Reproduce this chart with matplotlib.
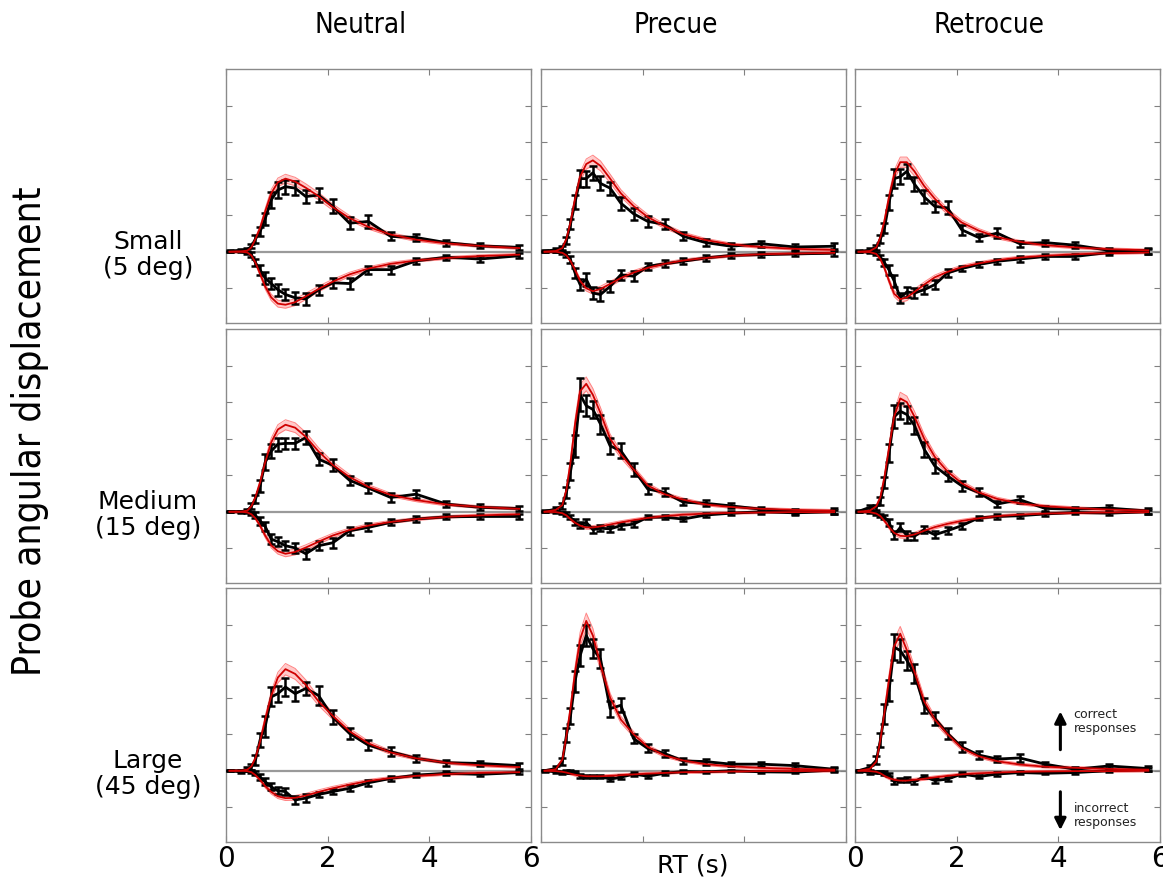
"""
RT distributions (correct up, incorrect down) for each cue condition x
probe displacement, data with SEM bars and model fit with band.
Saves to out.png
"""

import numpy as np
import matplotlib
matplotlib.use("Agg")
import matplotlib.pyplot as plt

# RT bin centres (s), shared by all panels
RT = [0.07, 0.29, 0.42, 0.50, 0.58, 0.67, 0.77, 0.89, 1.02, 1.17, 1.36,
      1.57, 1.82, 2.10, 2.43, 2.80, 3.24, 3.74, 4.33, 4.99, 5.77]

COLUMNS = ["Neutral", "Precue", "Retrocue"]
ROWS = ["Small\n(5 deg)", "Medium\n(15 deg)", "Large\n(45 deg)"]

# ── Neutral / small ───────────────────────────────────────────────────────────
NS_C = [0.02, 0.04, 0.05, 0.15, 0.35, 0.55, 0.90, 1.42, 1.69, 1.78, 1.74, 1.51, 1.55, 1.24, 0.78, 0.83, 0.42, 0.39, 0.25, 0.16, 0.12]
NS_CE = [0.03, 0.03, 0.05, 0.06, 0.10, 0.13, 0.16, 0.21, 0.22, 0.19, 0.19, 0.18, 0.19, 0.19, 0.16, 0.18, 0.11, 0.10, 0.08, 0.07, 0.07]
NS_CM = [0.00, 0.01, 0.03, 0.12, 0.35, 0.65, 1.10, 1.60, 1.90, 2.00, 1.92, 1.75, 1.52, 1.22, 0.92, 0.68, 0.47, 0.33, 0.23, 0.16, 0.10]
NS_I = [0.00, 0.00, -0.02, -0.08, -0.30, -0.50, -0.72, -0.87, -1.04, -1.17, -1.26, -1.29, -1.04, -0.85, -0.87, -0.49, -0.49, -0.25, -0.15, -0.20, -0.11]
NS_IE = [0.02, 0.02, 0.03, 0.06, 0.10, 0.13, 0.16, 0.16, 0.16, 0.16, 0.16, 0.16, 0.14, 0.14, 0.16, 0.11, 0.11, 0.08, 0.07, 0.07, 0.07]
NS_IM = [0.00, 0.00, -0.02, -0.10, -0.30, -0.60, -0.95, -1.25, -1.42, -1.45, -1.38, -1.22, -1.02, -0.82, -0.62, -0.46, -0.33, -0.24, -0.17, -0.12, -0.08]

# ── Precue / small ────────────────────────────────────────────────────────────
PS_C = [0.02, 0.05, 0.10, 0.30, 0.75, 1.35, 2.00, 2.00, 2.16, 1.87, 1.74, 1.33, 1.04, 0.83, 0.75, 0.42, 0.25, 0.15, 0.22, 0.13, 0.15]
PS_CE = [0.03, 0.05, 0.06, 0.10, 0.14, 0.19, 0.24, 0.22, 0.19, 0.19, 0.18, 0.18, 0.16, 0.14, 0.14, 0.11, 0.10, 0.08, 0.08, 0.07, 0.08]
PS_CM = [0.00, 0.02, 0.10, 0.35, 0.80, 1.45, 2.05, 2.40, 2.50, 2.35, 2.00, 1.60, 1.25, 0.95, 0.70, 0.48, 0.32, 0.20, 0.13, 0.08, 0.05]
PS_I = [0.00, 0.00, -0.02, -0.08, -0.22, -0.58, -0.90, -0.75, -1.13, -1.17, -0.95, -0.63, -0.67, -0.40, -0.33, -0.26, -0.17, -0.10, -0.08, -0.06, -0.04]
PS_IE = [0.02, 0.02, 0.03, 0.06, 0.10, 0.13, 0.16, 0.18, 0.16, 0.18, 0.14, 0.14, 0.13, 0.10, 0.10, 0.08, 0.07, 0.07, 0.07, 0.07, 0.07]
PS_IM = [0.00, 0.00, -0.03, -0.10, -0.25, -0.50, -0.80, -1.00, -1.08, -1.02, -0.88, -0.72, -0.57, -0.44, -0.33, -0.24, -0.17, -0.11, -0.07, -0.05, -0.03]

# ── Retrocue / small ──────────────────────────────────────────────────────────
RS_C = [0.01, 0.04, 0.12, 0.35, 0.65, 1.35, 2.00, 2.05, 2.20, 1.85, 1.50, 1.24, 1.20, 0.60, 0.39, 0.51, 0.22, 0.25, 0.18, 0.04, 0.03]
RS_CE = [0.03, 0.05, 0.06, 0.10, 0.14, 0.21, 0.26, 0.21, 0.19, 0.19, 0.18, 0.16, 0.18, 0.13, 0.10, 0.13, 0.08, 0.08, 0.08, 0.07, 0.08]
RS_CM = [0.00, 0.02, 0.12, 0.40, 0.85, 1.50, 2.10, 2.45, 2.45, 2.20, 1.80, 1.45, 1.10, 0.80, 0.58, 0.40, 0.27, 0.18, 0.12, 0.07, 0.04]
RS_I = [0.00, -0.01, -0.05, -0.15, -0.30, -0.50, -0.80, -1.26, -1.10, -1.13, -1.04, -0.90, -0.58, -0.46, -0.35, -0.26, -0.20, -0.13, -0.13, -0.02, 0.00]
RS_IE = [0.02, 0.02, 0.03, 0.06, 0.10, 0.13, 0.16, 0.13, 0.13, 0.13, 0.13, 0.13, 0.10, 0.08, 0.08, 0.07, 0.07, 0.07, 0.07, 0.07, 0.07]
RS_IM = [0.00, -0.01, -0.06, -0.20, -0.45, -0.80, -1.15, -1.30, -1.25, -1.10, -0.90, -0.70, -0.55, -0.42, -0.32, -0.23, -0.16, -0.11, -0.07, -0.04, -0.02]

# ── Neutral / medium ──────────────────────────────────────────────────────────
NM_C = [0.00, 0.00, 0.03, 0.15, 0.35, 0.70, 1.35, 1.66, 1.85, 1.87, 1.87, 2.03, 1.44, 1.27, 0.86, 0.65, 0.39, 0.48, 0.21, 0.12, 0.09]
NM_CE = [0.02, 0.03, 0.05, 0.08, 0.11, 0.16, 0.22, 0.19, 0.18, 0.16, 0.16, 0.19, 0.16, 0.16, 0.13, 0.13, 0.11, 0.11, 0.08, 0.08, 0.08]
NM_CM = [0.00, 0.00, 0.03, 0.15, 0.40, 0.80, 1.35, 1.90, 2.25, 2.38, 2.30, 2.05, 1.65, 1.28, 0.95, 0.68, 0.46, 0.32, 0.20, 0.13, 0.08]
NM_I = [0.00, 0.00, -0.01, -0.05, -0.10, -0.25, -0.40, -0.75, -0.82, -0.93, -0.99, -1.15, -0.93, -0.85, -0.52, -0.43, -0.29, -0.20, -0.14, -0.13, -0.13]
NM_IE = [0.02, 0.02, 0.03, 0.05, 0.08, 0.10, 0.13, 0.13, 0.13, 0.13, 0.13, 0.13, 0.13, 0.14, 0.11, 0.11, 0.08, 0.07, 0.07, 0.07, 0.07]
NM_IM = [0.00, 0.00, -0.02, -0.07, -0.18, -0.38, -0.65, -0.92, -1.08, -1.15, -1.10, -0.98, -0.82, -0.65, -0.50, -0.38, -0.28, -0.20, -0.14, -0.10, -0.07]

# ── Precue / medium ───────────────────────────────────────────────────────────
PM_C = [0.01, 0.07, 0.16, 0.53, 1.10, 1.80, 3.20, 2.90, 2.80, 2.40, 1.80, 1.67, 1.16, 0.62, 0.53, 0.26, 0.23, 0.16, 0.07, 0.01, 0.01]
PM_CE = [0.03, 0.05, 0.08, 0.16, 0.24, 0.29, 0.45, 0.29, 0.24, 0.26, 0.22, 0.21, 0.18, 0.13, 0.11, 0.08, 0.08, 0.07, 0.07, 0.07, 0.08]
PM_CM = [0.00, 0.05, 0.18, 0.60, 1.35, 2.40, 3.30, 3.50, 3.20, 2.70, 2.00, 1.57, 1.16, 0.72, 0.48, 0.33, 0.20, 0.13, 0.08, 0.05, 0.03]
PM_I = [0.00, -0.01, -0.03, -0.06, -0.15, -0.29, -0.36, -0.29, -0.49, -0.45, -0.47, -0.38, -0.34, -0.15, -0.15, -0.20, -0.09, -0.04, 0.00, -0.03, 0.00]
PM_IE = [0.02, 0.02, 0.03, 0.05, 0.06, 0.08, 0.08, 0.08, 0.08, 0.08, 0.08, 0.08, 0.08, 0.06, 0.06, 0.06, 0.05, 0.05, 0.05, 0.05, 0.06]
PM_IM = [0.00, -0.01, -0.04, -0.10, -0.20, -0.30, -0.38, -0.43, -0.43, -0.40, -0.35, -0.29, -0.23, -0.17, -0.12, -0.08, -0.05, -0.03, -0.02, -0.01, -0.01]

# ── Retrocue / medium ─────────────────────────────────────────────────────────
RM_C = [0.01, 0.12, 0.12, 0.30, 0.80, 1.60, 2.60, 2.75, 2.66, 2.36, 1.71, 1.25, 0.98, 0.71, 0.53, 0.21, 0.33, 0.09, 0.07, 0.10, 0.02]
RM_CE = [0.03, 0.06, 0.06, 0.11, 0.16, 0.24, 0.32, 0.22, 0.22, 0.22, 0.21, 0.19, 0.14, 0.13, 0.11, 0.08, 0.10, 0.06, 0.06, 0.08, 0.08]
RM_CM = [0.00, 0.03, 0.15, 0.40, 0.95, 1.75, 2.60, 3.10, 3.00, 2.60, 2.00, 1.50, 1.10, 0.78, 0.53, 0.35, 0.23, 0.15, 0.10, 0.06, 0.03]
RM_I = [0.00, -0.01, -0.05, -0.10, -0.15, -0.29, -0.64, -0.43, -0.65, -0.67, -0.49, -0.63, -0.52, -0.38, -0.17, -0.13, -0.11, -0.06, -0.02, -0.04, 0.00]
RM_IE = [0.02, 0.02, 0.03, 0.05, 0.06, 0.10, 0.11, 0.11, 0.11, 0.10, 0.10, 0.10, 0.10, 0.08, 0.06, 0.06, 0.05, 0.05, 0.05, 0.05, 0.06]
RM_IM = [0.00, -0.01, -0.05, -0.12, -0.25, -0.42, -0.58, -0.66, -0.67, -0.62, -0.52, -0.42, -0.33, -0.25, -0.18, -0.12, -0.08, -0.05, -0.03, -0.02, -0.01]

# ── Neutral / large ───────────────────────────────────────────────────────────
NL_C = [0.00, -0.03, 0.05, 0.11, 0.29, 0.84, 1.20, 2.02, 2.11, 2.29, 2.11, 2.25, 2.06, 1.47, 1.02, 0.70, 0.52, 0.34, 0.22, 0.20, 0.14]
NL_CE = [0.02, 0.03, 0.05, 0.08, 0.13, 0.19, 0.29, 0.26, 0.22, 0.24, 0.19, 0.19, 0.26, 0.19, 0.16, 0.13, 0.13, 0.10, 0.08, 0.08, 0.08]
NL_CM = [0.00, 0.00, 0.03, 0.12, 0.35, 0.80, 1.40, 2.05, 2.55, 2.78, 2.65, 2.35, 1.90, 1.50, 1.08, 0.75, 0.50, 0.34, 0.22, 0.15, 0.10]
NL_I = [0.00, 0.00, 0.00, -0.02, -0.07, -0.18, -0.30, -0.44, -0.55, -0.57, -0.80, -0.75, -0.65, -0.57, -0.48, -0.33, -0.21, -0.12, -0.07, -0.10, -0.05]
NL_IE = [0.02, 0.02, 0.02, 0.03, 0.06, 0.08, 0.10, 0.10, 0.10, 0.10, 0.10, 0.10, 0.08, 0.08, 0.08, 0.08, 0.06, 0.05, 0.05, 0.05, 0.05]
NL_IM = [0.00, 0.00, -0.01, -0.04, -0.12, -0.25, -0.42, -0.58, -0.70, -0.75, -0.74, -0.68, -0.58, -0.48, -0.38, -0.28, -0.20, -0.14, -0.09, -0.06, -0.04]

# ── Precue / large ────────────────────────────────────────────────────────────
PL_C = [0.00, 0.06, 0.25, 0.97, 1.50, 2.45, 3.15, 3.70, 3.34, 3.06, 1.70, 1.79, 0.88, 0.61, 0.47, 0.27, 0.25, 0.18, 0.18, 0.14, 0.04]
PL_CE = [0.03, 0.06, 0.10, 0.19, 0.22, 0.29, 0.29, 0.29, 0.26, 0.26, 0.22, 0.19, 0.13, 0.11, 0.10, 0.08, 0.08, 0.06, 0.06, 0.06, 0.06]
PL_CM = [0.00, 0.04, 0.30, 0.95, 1.70, 2.70, 3.60, 4.10, 3.70, 2.90, 2.00, 1.40, 1.00, 0.65, 0.42, 0.28, 0.18, 0.12, 0.08, 0.05, 0.03]
PL_I = [0.00, -0.03, -0.05, -0.02, -0.02, -0.04, -0.15, -0.16, -0.16, -0.16, -0.23, -0.18, -0.09, -0.15, -0.07, -0.02, -0.03, 0.00, -0.03, -0.04, 0.02]
PL_IE = [0.02, 0.03, 0.03, 0.03, 0.03, 0.03, 0.05, 0.05, 0.05, 0.05, 0.06, 0.05, 0.05, 0.05, 0.05, 0.03, 0.03, 0.03, 0.03, 0.03, 0.05]
PL_IM = [0.00, -0.01, -0.03, -0.05, -0.08, -0.11, -0.13, -0.15, -0.15, -0.15, -0.14, -0.12, -0.10, -0.08, -0.06, -0.04, -0.03, -0.02, -0.01, -0.01, 0.00]

# ── Retrocue / large ──────────────────────────────────────────────────────────
RL_C = [0.00, 0.09, 0.29, 0.84, 1.56, 2.20, 3.38, 3.29, 3.02, 2.65, 1.79, 1.43, 1.02, 0.65, 0.43, 0.32, 0.35, 0.18, 0.04, 0.13, 0.06]
RL_CE = [0.03, 0.06, 0.10, 0.19, 0.27, 0.29, 0.35, 0.32, 0.26, 0.26, 0.21, 0.19, 0.16, 0.13, 0.10, 0.08, 0.11, 0.06, 0.05, 0.06, 0.06]
RL_CM = [0.00, 0.05, 0.25, 0.85, 1.60, 2.50, 3.40, 3.75, 3.30, 2.70, 1.90, 1.40, 1.00, 0.62, 0.40, 0.26, 0.17, 0.11, 0.08, 0.05, 0.03]
RL_I = [0.00, -0.05, -0.04, -0.04, -0.07, -0.10, -0.30, -0.25, -0.24, -0.30, -0.16, -0.27, -0.23, -0.09, -0.16, -0.09, -0.05, -0.07, -0.05, 0.00, 0.03]
RL_IE = [0.02, 0.03, 0.03, 0.03, 0.05, 0.05, 0.06, 0.06, 0.06, 0.06, 0.05, 0.06, 0.06, 0.05, 0.05, 0.05, 0.03, 0.03, 0.03, 0.03, 0.05]
RL_IM = [0.00, -0.01, -0.03, -0.07, -0.14, -0.20, -0.25, -0.27, -0.27, -0.25, -0.22, -0.18, -0.14, -0.10, -0.07, -0.05, -0.03, -0.02, -0.01, -0.01, 0.00]

# rows = displacement, cols = cue condition
PANELS = [
    [(NS_C, NS_CE, NS_CM, NS_I, NS_IE, NS_IM),
     (PS_C, PS_CE, PS_CM, PS_I, PS_IE, PS_IM),
     (RS_C, RS_CE, RS_CM, RS_I, RS_IE, RS_IM)],
    [(NM_C, NM_CE, NM_CM, NM_I, NM_IE, NM_IM),
     (PM_C, PM_CE, PM_CM, PM_I, PM_IE, PM_IM),
     (RM_C, RM_CE, RM_CM, RM_I, RM_IE, RM_IM)],
    [(NL_C, NL_CE, NL_CM, NL_I, NL_IE, NL_IM),
     (PL_C, PL_CE, PL_CM, PL_I, PL_IE, PL_IM),
     (RL_C, RL_CE, RL_CM, RL_I, RL_IE, RL_IM)],
]

# model uncertainty band: fixed floor + fraction of the curve
BAND_FLOOR = 0.03
BAND_FRAC = 0.045

W, H = 1163, 881
COL_X = [226, 541, 855]
ROW_Y = [69, 329, 588]
PW, PH = 305, 254


def draw_model(ax, m):
    m = np.asarray(m)
    hw = BAND_FLOOR + BAND_FRAC * np.abs(m)
    ax.fill_between(RT, m - hw, m + hw, color="#ffa8a8", alpha=0.6,
                    linewidth=0, zorder=2)
    ax.plot(RT, m - hw, color="#ff6a6a", lw=0.7, alpha=0.8, zorder=2)
    ax.plot(RT, m + hw, color="#ff6a6a", lw=0.7, alpha=0.8, zorder=2)
    ax.plot(RT, m, color="#d00000", lw=1.3, zorder=5)


def draw_data(ax, y, e):
    ax.errorbar(RT, y, yerr=e, color="black", lw=2.0, elinewidth=1.8,
                capsize=3, capthick=1.8, zorder=4)


fig = plt.figure(figsize=(W / 100, H / 100), dpi=100)
fig.patch.set_facecolor("white")

for r in range(3):
    for c in range(3):
        left = COL_X[c] / W
        bottom = 1 - (ROW_Y[r] + PH) / H
        ax = fig.add_axes([left, bottom, PW / W, PH / H])
        corr, corr_e, corr_m, inc, inc_e, inc_m = PANELS[r][c]

        ax.axhline(0, color="#9a9a9a", lw=1.6, zorder=1)
        draw_model(ax, corr_m)
        draw_model(ax, inc_m)
        draw_data(ax, corr, corr_e)
        draw_data(ax, inc, inc_e)

        ax.set_xlim(0, 6)
        ax.set_ylim(-1.95, 5.0)
        ax.set_xticks([0, 2, 4, 6])
        ax.set_yticks([-1, 0, 1, 2, 3, 4])
        ax.tick_params(direction="in", length=4, width=0.8, color="#808080",
                       top=True, right=True, labelleft=False,
                       labelbottom=False)
        for sp in ax.spines.values():
            sp.set_color("#8a8a8a")
            sp.set_linewidth(1.0)

        if r == 2 and c != 1:
            ax.tick_params(labelbottom=True, labelsize=20, pad=2)

        if r == 2 and c == 2:
            ax.annotate("", xy=(4.04, 1.70), xytext=(4.04, 0.5),
                        arrowprops=dict(arrowstyle="-|>", lw=2.2, color="black",
                                        mutation_scale=17))
            ax.annotate("", xy=(4.04, -1.70), xytext=(4.04, -0.5),
                        arrowprops=dict(arrowstyle="-|>", lw=2.2, color="black",
                                        mutation_scale=17))
            ax.text(4.3, 1.36, "correct\nresponses", fontsize=9,
                    color="#222222", va="center", ha="left",
                    linespacing=1.1)
            ax.text(4.3, -1.22, "incorrect\nresponses", fontsize=9,
                    color="#222222", va="center", ha="left",
                    linespacing=1.1)

# column titles
for c, name in enumerate(COLUMNS):
    fig.text((COL_X[c] + PW / 2 - 18) / W, 1 - 25 / H, name,
             fontsize=20, ha="center", va="center", fontstretch="condensed")

# row labels, level with each zero line
for r, name in enumerate(ROWS):
    fig.text(148 / W, 1 - (ROW_Y[r] + 186) / H, name, fontsize=18,
             ha="center", va="center", linespacing=1.15)

fig.text(30 / W, 1 - 431 / H, "Probe angular displacement", fontsize=28,
         rotation=90, ha="center", va="center", fontstretch="condensed")
fig.text(693 / W, 1 - 866 / H, "RT (s)", fontsize=18, ha="center",
         va="center")

fig.savefig("out.png", dpi=100, facecolor="white")
